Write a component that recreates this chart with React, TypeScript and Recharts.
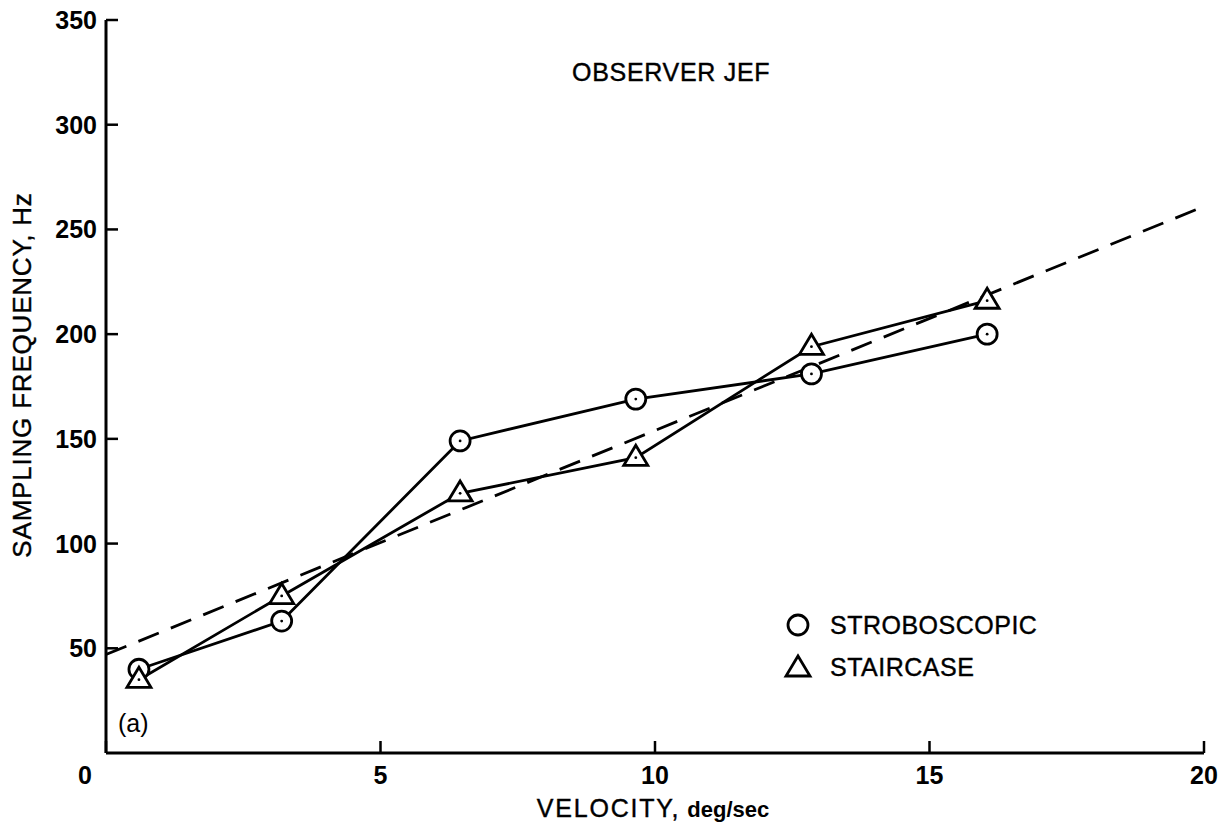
import React from "react"
import { LineChart, Line, XAxis, YAxis } from "recharts"

const velocities = [0.6, 3.2, 6.45, 9.65, 12.85, 16.05]
const stroboscopic = [40, 63, 149, 169, 181, 200]
const staircase = [35, 75, 124, 141, 194, 216]
const fitLine = [
  { x: 0, y: 47 },
  { x: 20, y: 261 },
]
const xTicks = [0, 5, 10, 15, 20]
const yTicks = [50, 100, 150, 200, 250, 300, 350]

const stroboData = velocities.map((x, i) => ({ x, y: stroboscopic[i] }))
const stairData = velocities.map((x, i) => ({ x, y: staircase[i] }))

const FONT = "'Liberation Sans', Arial, Helvetica, sans-serif"

function CircleMark({ cx, cy }: { cx: number; cy: number }) {
  return (
    <g>
      <circle cx={cx} cy={cy} r={10} fill="#fff" stroke="#000" strokeWidth={2.8} />
      <circle cx={cx} cy={cy} r={1.4} fill="#000" />
    </g>
  )
}

function TriangleMark({ cx, cy }: { cx: number; cy: number }) {
  const h = 20
  const w = 24
  const pts = `${cx},${cy - h * 0.62} ${cx - w / 2},${cy + h * 0.38} ${cx + w / 2},${cy + h * 0.38}`
  return (
    <g>
      <polygon points={pts} fill="#fff" stroke="#000" strokeWidth={2.8} strokeLinejoin="miter" />
      <circle cx={cx} cy={cy} r={1.4} fill="#000" />
    </g>
  )
}

function XTick(props: any) {
  const { x, y, payload } = props
  const shift = payload.value === 0 ? -21 : 0
  return (
    <text x={x + shift} y={y + 19} textAnchor="middle" fontFamily={FONT} fontWeight="bold" fontSize={25} fill="#000">
      {payload.value}
    </text>
  )
}

function YTick(props: any) {
  const { x, y, payload } = props
  return (
    <text x={x} y={y + 9} textAnchor="end" fontFamily={FONT} fontWeight="bold" fontSize={25} fill="#000">
      {payload.value}
    </text>
  )
}

const textStyle: React.CSSProperties = {
  position: "absolute",
  fontFamily: FONT,
  color: "#000",
  whiteSpace: "nowrap",
  lineHeight: 1,
}

export default function App() {
  return (
    <div style={{ position: "absolute", left: 0, top: 0, width: 1223, height: 831, background: "#fff" }}>
      <LineChart width={1223} height={831} margin={{ top: 20, right: 19, bottom: 0, left: 0 }}>
        <XAxis
          type="number"
          dataKey="x"
          domain={[0, 20]}
          ticks={xTicks}
          height={78}
          stroke="#000"
          strokeWidth={3}
          tickSize={-12}
          tickMargin={24}
          tick={<XTick />}
          tickLine={{ stroke: "#000", strokeWidth: 2.5 }}
          allowDataOverflow
        />
        <YAxis
          type="number"
          dataKey="y"
          domain={[0, 350]}
          ticks={yTicks}
          width={106}
          stroke="#000"
          strokeWidth={3}
          tickSize={-12}
          tickMargin={21}
          tick={<YTick />}
          tickLine={{ stroke: "#000", strokeWidth: 2.5 }}
          allowDataOverflow
        />
        <Line
          data={fitLine}
          dataKey="y"
          stroke="#000"
          strokeWidth={2.8}
          strokeDasharray="22 13"
          dot={false}
          isAnimationActive={false}
        />
        <Line
          data={stroboData}
          dataKey="y"
          stroke="#000"
          strokeWidth={2.8}
          dot={(p: any) => <CircleMark key={`s${p.index}`} cx={p.cx} cy={p.cy} />}
          isAnimationActive={false}
        />
        <Line
          data={stairData}
          dataKey="y"
          stroke="#000"
          strokeWidth={2.8}
          dot={(p: any) => <TriangleMark key={`t${p.index}`} cx={p.cx} cy={p.cy} />}
          isAnimationActive={false}
        />
      </LineChart>

      <div style={{ ...textStyle, left: 572, top: 60, fontSize: 25, letterSpacing: 0.7, WebkitTextStroke: "0.4px #000" }}>
        OBSERVER JEF
      </div>
      <div style={{ ...textStyle, left: 118, top: 711, fontSize: 25 }}>(a)</div>

      <div
        style={{
          ...textStyle,
          left: 22,
          top: 375,
          fontSize: 26,
          letterSpacing: 0.8,
          WebkitTextStroke: "0.4px #000",
          transform: "translate(-50%, -50%) rotate(-90deg)",
        }}
      >
        SAMPLING FREQUENCY, Hz
      </div>
      <div style={{ ...textStyle, left: 653, top: 796, fontSize: 25, transform: "translateX(-50%)" }}>
        <span style={{ letterSpacing: 1.8, WebkitTextStroke: "0.4px #000" }}>VELOCITY,</span>{" "}
        <span style={{ fontWeight: "bold", fontSize: 22 }}>deg/sec</span>
      </div>

      <svg style={{ position: "absolute", left: 780, top: 605 }} width={40} height={80}>
        <circle cx={18} cy={20} r={10} fill="none" stroke="#000" strokeWidth={2.8} />
        <polygon points="18,51 6,71 30,71" fill="none" stroke="#000" strokeWidth={2.8} />
      </svg>
      <div style={{ ...textStyle, left: 830, top: 613, fontSize: 25, letterSpacing: 0.5, WebkitTextStroke: "0.4px #000" }}>
        STROBOSCOPIC
      </div>
      <div style={{ ...textStyle, left: 830, top: 655, fontSize: 25, letterSpacing: 0.5, WebkitTextStroke: "0.4px #000" }}>
        STAIRCASE
      </div>
    </div>
  )
}
